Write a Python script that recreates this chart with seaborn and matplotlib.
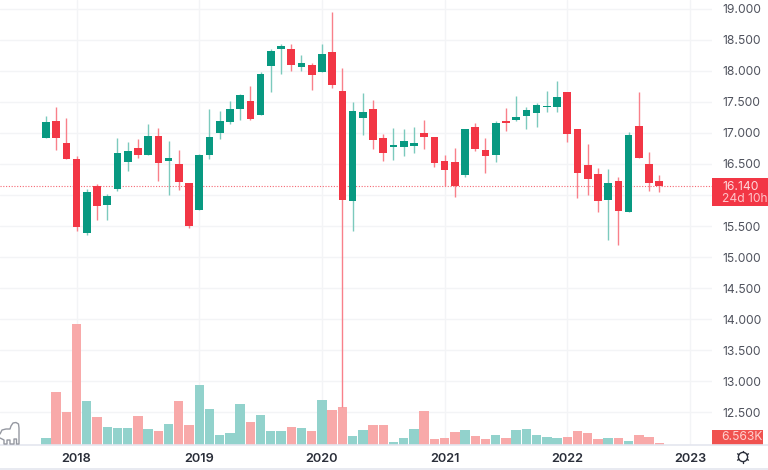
import numpy as np
import pandas as pd
import matplotlib
matplotlib.use('Agg')
import matplotlib.pyplot as plt
from matplotlib.patches import Rectangle, Circle
import seaborn as sns

# monthly candles, Oct 2017 .. Oct 2022
open_ = [16.919,17.199,16.844,16.575,15.387,16.140,15.833,16.102,16.527,16.753,16.645,16.952,16.543,16.505,16.194,15.758,
         16.645,16.995,17.177,17.382,17.521,17.296,18.075,18.349,18.360,18.070,18.097,17.984,18.312,17.677,15.898,17.242,
         17.392,16.914,16.780,16.780,16.785,16.995,16.941,16.554,16.532,16.328,17.102,16.726,16.645,17.193,17.215,17.280,
         17.323,17.425,17.414,17.656,17.064,16.484,16.344,15.914,16.231,15.720,17.118,16.505,16.220]
high = [17.274,17.425,17.242,16.629,16.091,16.172,16.011,16.919,16.855,16.898,17.140,17.081,16.871,16.731,16.194,16.656,
        17.382,17.349,17.511,17.634,17.763,17.984,18.349,18.435,18.435,18.258,18.134,18.435,18.951,18.054,17.495,17.640,
        17.538,16.978,17.075,17.059,17.097,17.210,16.941,16.645,16.758,17.070,17.161,16.919,17.199,17.398,17.597,17.414,
        17.478,17.672,17.839,17.656,17.070,16.828,16.435,16.419,16.285,17.016,17.667,16.688,16.317]
low = [16.914,16.731,16.575,15.425,15.355,15.602,15.602,16.059,16.382,16.597,16.645,16.231,16.005,16.075,15.473,15.753,
       16.586,16.903,17.151,17.210,17.210,17.296,17.661,17.946,17.995,18.000,17.699,17.984,17.731,12.581,15.419,16.973,
       16.742,16.548,16.564,16.629,16.672,16.747,16.457,16.140,15.962,16.285,16.704,16.355,16.532,17.038,17.199,17.059,
       17.097,17.344,17.339,16.860,15.952,16.005,15.726,15.274,15.194,15.720,16.591,16.059,16.043]
close = [17.172,16.919,16.581,15.478,16.048,15.817,15.989,16.683,16.704,16.645,16.952,16.511,16.591,16.210,15.505,16.651,
         16.930,17.199,17.392,17.613,17.231,17.946,18.328,18.398,18.097,18.124,17.930,18.269,17.769,15.925,17.349,17.339,
         16.882,16.683,16.806,16.866,16.833,16.941,16.516,16.398,16.140,17.064,16.747,16.634,17.156,17.156,17.253,17.366,
         17.457,17.435,17.586,16.989,16.355,16.253,15.909,16.188,15.742,16.962,16.591,16.188,16.140]
# volume in thousands
volume = [22,172,107,394,144,93,59,56,57,96,52,46,69,145,67,195,118,33,40,135,76,99,47,45,58,55,47,147,115,124,28,49,
          64,67,11,23,51,112,21,24,43,48,28,20,34,24,48,51,33,27,22,27,46,39,19,22,22,14,33,25,6.563]

years = ['2018', '2019', '2020', '2021', '2022', '2023']
price_ticks = [12.5, 13, 13.5, 14, 14.5, 15, 15.5, 16, 16.5, 17, 17.5, 18, 18.5, 19]
last_price = 16.140
last_volume_label = '6.563K'
countdown_label = '24d 10h'

df = pd.DataFrame({'month': np.arange(len(open_)), 'open': open_, 'high': high, 'low': low,
                   'close': close, 'volume': volume})
df['up'] = df['close'] >= df['open']
df['body_low'] = df[['open', 'close']].min(axis=1)
df['body'] = (df['close'] - df['open']).abs()

GREEN = '#089981'
RED = '#F23645'
GRID = '#F3F4F6'
LABEL = '#50535E'

sns.set_theme(style='white')
plt.rcParams['font.family'] = ['Inter', 'DejaVu Sans']

W, H = 768, 470
fig = plt.figure(figsize=(W / 100, H / 100), dpi=100)
ax = fig.add_axes([0, 25 / H, 712 / W, 445 / H])
ax_vol = ax.twinx()

# volume underneath
sns.barplot(data=df, x='month', y='volume', hue='up', palette={True: '#92D2CC', False: '#F8A9A9'},
            native_scale=True, dodge=False, width=0.92, saturation=1, legend=False, errorbar=None,
            edgecolor='none', linewidth=0, ax=ax_vol)
ax_vol.set_ylim(0, 1455)
ax_vol.set_ylabel('')
ax_vol.set_yticks([])

# wicks and bodies
for up, color, wick in [(True, GREEN, '#7CCABD'), (False, RED, '#F9808A')]:
    sub = df[df['up'] == up]
    ax.vlines(sub['month'], sub['low'], sub['high'], color=wick, lw=1.0, zorder=2)
    sns.barplot(data=sub, x='month', y='body', bottom=sub['body_low'].values, native_scale=True,
                color=color, saturation=1, width=0.75, errorbar=None, edgecolor='none',
                linewidth=0, ax=ax, zorder=3)

ax.set_zorder(ax_vol.get_zorder() + 1)
ax.patch.set_visible(False)
ax_vol.patch.set_visible(True)
ax_vol.patch.set_facecolor('white')

ax.axhline(last_price, color=RED, lw=0.8, ls=(0, (1, 1.5)), alpha=0.75, zorder=1)

ax.set_xlim(-4.49, 65.16)
ax.set_ylim(11.968, 19.145)
ax_vol.set_xlim(-4.49, 65.16)
ax.set_xlabel('')
ax.set_ylabel('')
ax_vol.set_xlabel('')

ax.set_yticks(price_ticks)
ax.set_yticklabels([f'{p:.3f}' for p in price_ticks])
ax.yaxis.tick_right()
ax.tick_params(axis='y', length=0, pad=7.2, labelsize=8.7, labelcolor=LABEL)

ax.set_xticks([3 + 12 * i for i in range(len(years))])
ax.set_xticklabels(years)
ax.tick_params(axis='x', length=0, pad=5.8, labelsize=9.2, labelcolor='#2A2E39')
for t in ax.get_xticklabels():
    t.set_fontweight('semibold')

# grid belongs behind the volume bars, so it goes on the lower axes
for y in price_ticks:
    ax_vol.axhline((y - 11.968) / (19.145 - 11.968) * 1455, color=GRID, lw=1.0, zorder=0)
for x in ax.get_xticks():
    ax_vol.axvline(x, color=GRID, lw=1.0, zorder=0)
for s in list(ax.spines.values()) + list(ax_vol.spines.values()):
    s.set_visible(False)

# overlay in pixel coordinates for the price tags and the corner icons
ov = fig.add_axes([0, 0, 1, 1], zorder=10)
ov.set_xlim(0, W)
ov.set_ylim(H, 0)
ov.axis('off')
ov.patch.set_visible(False)

ov.plot([0, W], [445, 445], color='#E4E6EF', lw=1.2)
ov.plot([0, W], [469, 469], color='#E4E6EF', lw=1.2)

ov.add_patch(Rectangle((712, 178), 56, 27.5, color=RED, lw=0))
ov.text(722, 186.5, f'{last_price:.3f}', color='#FFD9DC', fontsize=8.7, va='center', ha='left')
ov.text(721.5, 198.5, countdown_label, color='#FFC4C9', fontsize=8.7, va='center', ha='left')
ov.add_patch(Rectangle((712, 430), 51, 15, color='#F0524F', lw=0))
ov.text(721, 437.5, last_volume_label, color='#FFD0CE', fontsize=8.7, va='center', ha='left')

# settings icon
ov.add_patch(Circle((743, 457), 4.6, fill=False, ec='#2A2E39', lw=1.0))
for a in np.deg2rad(np.arange(30, 390, 60)):
    ov.plot([743 + 4.6 * np.cos(a), 743 + 6.3 * np.cos(a)], [457 + 4.6 * np.sin(a), 457 + 6.3 * np.sin(a)],
            color='#2A2E39', lw=1.0)

# dinosaur outline
dino_x = [0, 2, 6, 10, 11, 13, 16, 18.5, 19, 19, 16.5, 16.5, 14, 14, 10, 10, 7, 7, 4, 4, 0]
dino_y = [434, 430, 429, 429, 426, 423, 422.5, 424, 428, 444, 444, 439, 439, 444, 444, 440, 440, 444, 444, 440, 438]
ov.plot(dino_x, dino_y, color='#9598A1', lw=1.0, solid_joinstyle='round')

fig.savefig('out.png', dpi=100)
